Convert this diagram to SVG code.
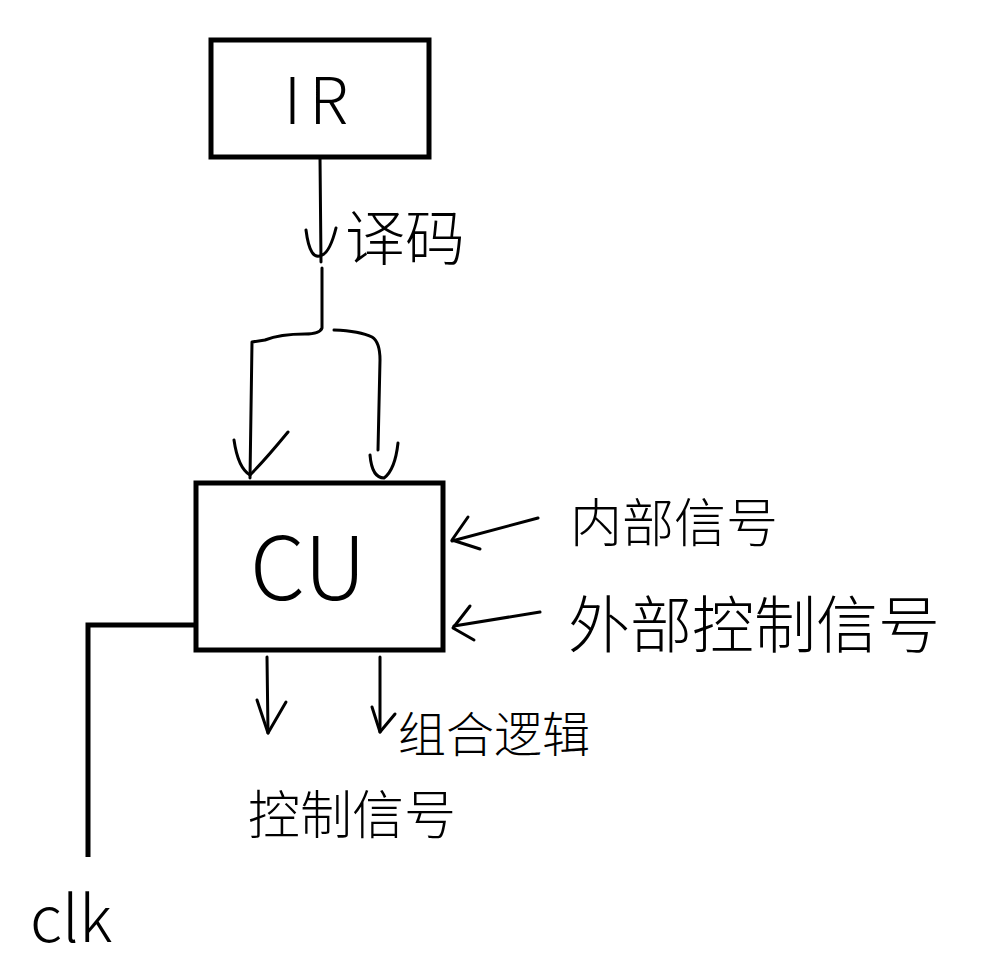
<svg xmlns="http://www.w3.org/2000/svg" width="990" height="977" viewBox="0 0 990 977">
<style>
.box{fill:#fff;stroke:#000;stroke-width:5}
.ln{fill:none;stroke:#000;stroke-width:3;stroke-linecap:round;stroke-linejoin:round}
.thick{fill:none;stroke:#000;stroke-width:5}
.t{font-family:"Noto Sans CJK SC","Noto Sans",sans-serif;fill:#000;font-weight:300}
</style>
<rect width="990" height="977" fill="#fff"/>
<g id="connectors">
<path class="ln" d="M320 157 L321 262"/>
<path class="ln" d="M306 230 Q310 262 322 255 Q330 252 336 228"/>
<path class="ln" d="M322 268 L322 328 Q320 334 305 334 Q280 334 265 340 L252 342 L250 478"/>
<path class="ln" d="M334 330 Q360 331 372 337 Q380 342 380 360 L378 450"/>
<path class="ln" d="M234 440 Q238 468 250 475 Q265 460 288 432"/>
<path class="ln" d="M370 455 Q372 478 384 478 Q395 470 398 443"/>
<path class="ln" d="M538 518 L452 541"/>
<path class="ln" d="M468 517 L452 540 L480 549"/>
<path class="ln" d="M540 612 L454 626"/>
<path class="ln" d="M470 606 L453 628 L474 640"/>
<path class="ln" d="M267 657 L268 733"/>
<path class="ln" d="M257 700 L268 733 L286 702"/>
<path class="ln" d="M380 657 L380 732"/>
<path class="ln" d="M372 707 L380 732 L395 714"/>
<path class="thick" d="M196 625 L88 625 L88 857"/>
</g>
<g id="IR">
<rect class="box" x="211" y="40" width="218" height="117"/>
<text class="t" x="320" y="124" font-size="64" text-anchor="middle" letter-spacing="8">IR</text>
</g>
<g id="CU">
<rect class="box" x="196" y="483" width="247" height="167"/>
<text class="t" x="308" y="600" font-size="88" text-anchor="middle">CU</text>
</g>
<g id="labels">
<text class="t" x="345" y="260" font-size="60">译码</text>
<text class="t" x="570" y="542" font-size="52">内部信号</text>
<text class="t" x="568" y="648" font-size="62">外部控制信号</text>
<text class="t" x="398" y="752" font-size="48">组合逻辑</text>
<text class="t" x="248" y="834" font-size="52">控制信号</text>
<text class="t" x="30" y="942" font-size="64">clk</text>
</g>
</svg>
